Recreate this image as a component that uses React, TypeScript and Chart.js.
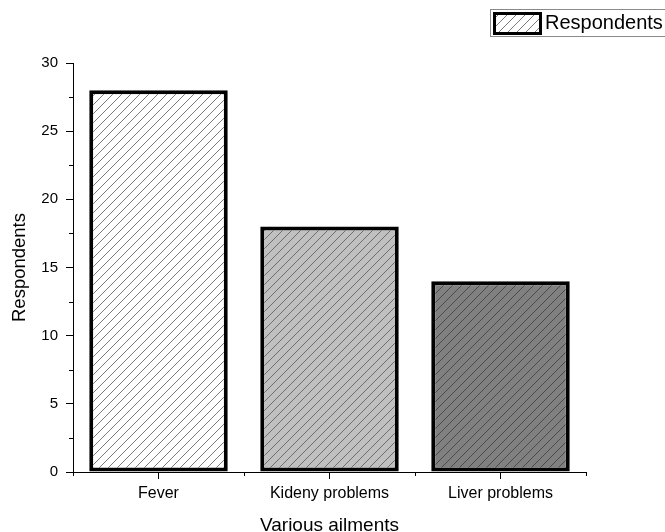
import React, { useEffect, useRef } from "react";
import { Chart, registerables } from "chart.js";

Chart.register(...registerables);

const categories = ["Fever", "Kideny problems", "Liver problems"];
const respondents = [28, 18, 14];
const seriesLabel = "Respondents";
const yTickMin = 0;
const yTickMax = 30;
const yMajorStep = 5;
const yMinorStep = 2.5;
const barFills = ["#ffffff", "#c0c0c0", "#808080"];
const hatchColors = ["#7a7a7a", "#6e6e6e", "#4a4a4a"];

const FONT = "'Liberation Sans', Arial, Helvetica, sans-serif";

function makeHatch(bg: string, line: string): CanvasPattern | string {
  const s = 9;
  const c = document.createElement("canvas");
  c.width = s;
  c.height = s;
  const ctx = c.getContext("2d");
  if (!ctx) return bg;
  ctx.fillStyle = bg;
  ctx.fillRect(0, 0, s, s);
  ctx.strokeStyle = line;
  ctx.lineWidth = 1;
  ctx.beginPath();
  ctx.moveTo(0, s);
  ctx.lineTo(s, 0);
  ctx.moveTo(-1, 1);
  ctx.lineTo(1, -1);
  ctx.moveTo(s - 1, s + 1);
  ctx.lineTo(s + 1, s - 1);
  ctx.stroke();
  const p = ctx.createPattern(c, "repeat");
  return p || bg;
}

const minorTicksPlugin = {
  id: "minorTicks",
  afterDraw(chart: any) {
    const ctx = chart.ctx;
    const y = chart.scales.y;
    const x = chart.scales.x;
    const area = chart.chartArea;
    ctx.save();
    ctx.strokeStyle = "#000";
    ctx.lineWidth = 1;
    ctx.beginPath();
    for (let v = yTickMin + yMinorStep; v < yTickMax; v += yMajorStep) {
      const py = Math.round(y.getPixelForValue(v)) + 0.5;
      ctx.moveTo(area.left - 4, py);
      ctx.lineTo(area.left, py);
    }
    const n = categories.length;
    const bounds: number[] = [area.left, area.right];
    for (let i = 0; i < n - 1; i++) {
      bounds.push((x.getPixelForValue(i) + x.getPixelForValue(i + 1)) / 2);
    }
    bounds.forEach((bx) => {
      const px = Math.round(bx) + 0.5;
      ctx.moveTo(px, area.bottom);
      ctx.lineTo(px, area.bottom + 4);
    });
    ctx.stroke();
    ctx.restore();
  },
};

const legendPlugin = {
  id: "customLegend",
  afterDraw(chart: any) {
    const ctx = chart.ctx;
    const ds = chart.data.datasets[0];
    const fill = (ds.backgroundColor as any[])[0];
    ctx.save();
    ctx.strokeStyle = "#8a8a8a";
    ctx.lineWidth = 1;
    ctx.strokeRect(490.5, 9.5, 190, 27);
    ctx.fillStyle = fill;
    ctx.fillRect(494, 13, 47, 21);
    ctx.strokeStyle = "#000";
    ctx.lineWidth = 3;
    ctx.strokeRect(494.5, 13.5, 46, 20);
    ctx.fillStyle = "#000";
    ctx.font = `20px ${FONT}`;
    ctx.textBaseline = "middle";
    ctx.textAlign = "left";
    ctx.fillText(ds.label, 545, 23.5);
    ctx.restore();
  },
};

export default function App() {
  const ref = useRef<HTMLCanvasElement | null>(null);

  useEffect(() => {
    if (!ref.current) return;
    const fills = barFills.map((b, i) => makeHatch(b, hatchColors[i]));
    const chart = new Chart(ref.current, {
      type: "bar",
      data: {
        labels: categories,
        datasets: [
          {
            label: seriesLabel,
            data: respondents,
            backgroundColor: fills as any,
            borderColor: "#000",
            borderWidth: 4,
            borderSkipped: false,
            barPercentage: 0.81,
            categoryPercentage: 1,
          },
        ],
      },
      options: {
        responsive: false,
        animation: false,
        devicePixelRatio: 1,
        layout: { padding: { top: 63, right: 79, left: 0, bottom: 0 } },
        plugins: {
          legend: { display: false },
          tooltip: { enabled: false },
        },
        scales: {
          x: {
            afterFit(scale: any) {
              scale.height = 60;
            },
            grid: {
              display: true,
              drawOnChartArea: false,
              drawTicks: true,
              tickLength: 7,
              tickColor: "#000",
              offset: false,
            },
            border: { display: true, color: "#000", width: 1 },
            ticks: {
              color: "#000",
              font: { family: FONT, size: 16 },
              padding: 5,
              maxRotation: 0,
            },
            title: {
              display: true,
              text: "Various ailments",
              color: "#000",
              font: { family: FONT, size: 19, lineHeight: 1 },
              padding: { top: 0, bottom: -3 },
            },
          },
          y: {
            min: yTickMin,
            max: yTickMax,
            afterFit(scale: any) {
              scale.width = 73;
            },
            grid: {
              display: true,
              drawOnChartArea: false,
              drawTicks: true,
              tickLength: 7,
              tickColor: "#000",
            },
            border: { display: true, color: "#000", width: 1 },
            ticks: {
              stepSize: yMajorStep,
              color: "#000",
              font: { family: FONT, size: 15 },
              padding: 8,
            },
            title: {
              display: true,
              text: seriesLabel,
              color: "#000",
              font: { family: FONT, size: 18.5, lineHeight: 1.2 },
              padding: { top: 9, bottom: 0 },
            },
          },
        },
      },
      plugins: [minorTicksPlugin, legendPlugin],
    });
    return () => chart.destroy();
  }, []);

  return (
    <div style={{ position: "absolute", left: 0, top: 0, width: 665, height: 532, background: "#fff" }}>
      <canvas ref={ref} width={665} height={532} style={{ display: "block" }} />
    </div>
  );
}
